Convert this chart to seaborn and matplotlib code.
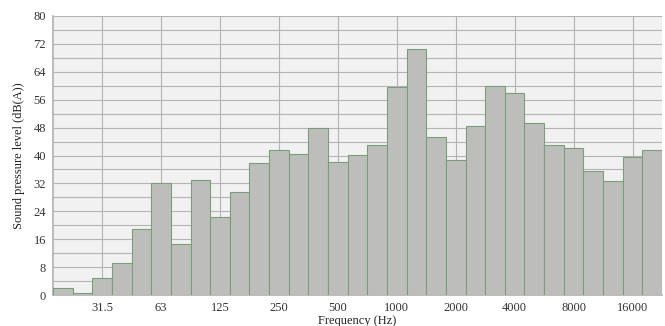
import matplotlib
matplotlib.use("Agg")
import matplotlib.pyplot as plt
import seaborn as sns
import pandas as pd
import numpy as np

bands = ["20", "25", "31.5", "40", "50", "63", "80", "100", "125", "160", "200",
         "250", "315", "400", "500", "630", "800", "1000", "1250", "1600", "2000",
         "2500", "3150", "4000", "5000", "6300", "8000", "10000", "12500", "16000", "20000"]
levels = [1.9, 0.5, 4.9, 9.2, 19.0, 32.2, 14.7, 33.1, 22.4, 29.5, 37.9,
          41.5, 40.5, 48.0, 38.1, 40.1, 43.0, 59.6, 70.4, 45.2, 38.8,
          48.4, 59.8, 58.0, 49.2, 43.0, 42.2, 35.5, 32.7, 39.5, 41.5]
labeled = ["31.5", "63", "125", "250", "500", "1000", "2000", "4000", "8000", "16000"]

df = pd.DataFrame({"band": bands, "level": levels})

sns.set_theme(style="white")
plt.rcParams["font.family"] = ["Liberation Serif", "DejaVu Serif"]

fig = plt.figure(figsize=(6.65, 3.26), dpi=100)
ax = fig.add_axes([53/665, 31/326, 609/665, 279/326])
ax.set_facecolor("#f1f1f1")

sns.barplot(data=df, x="band", y="level", order=bands, color="#bdbebb",
            saturation=1, width=1.0, edgecolor="#7c9c7c", linewidth=0.8,
            ax=ax, zorder=3)

ax.set_xlim(-0.5, len(bands) - 0.5)
ax.set_ylim(0, 80)
ax.set_yticks(np.arange(0, 81, 8))
ax.set_yticks(np.arange(0, 81, 4), minor=True)
tick_pos = [bands.index(b) for b in labeled]
ax.set_xticks(tick_pos)
ax.set_xticklabels(labeled)

ax.grid(True, which="both", axis="y", color="#b4b4b4", linewidth=0.8, zorder=0)
ax.grid(True, which="major", axis="x", color="#b4b4b4", linewidth=0.8, zorder=0)
ax.set_axisbelow(True)

for s in ax.spines.values():
    s.set_visible(False)
ax.spines["left"].set_visible(True)
ax.spines["left"].set_color("#b4b4b4")
ax.spines["bottom"].set_visible(True)
ax.spines["bottom"].set_color("#b4b4b4")

ax.tick_params(axis="both", which="both", labelsize=9, colors="#333333",
               length=3, width=0.6, color="#999999", pad=2)
ax.tick_params(axis="y", which="minor", length=3)
ax.tick_params(axis="x", length=3)

ax.set_xlabel("Frequency (Hz)", fontsize=9, color="#222222", labelpad=1)
ax.set_ylabel("Sound pressure level (dB(A))", fontsize=9, color="#222222", labelpad=6)

fig.savefig("out.png", dpi=100)
